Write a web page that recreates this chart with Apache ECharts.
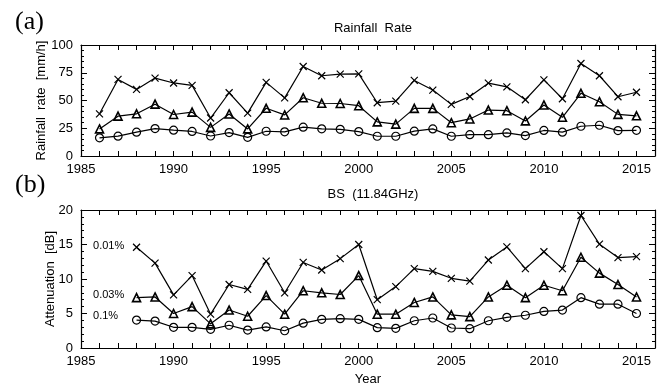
<!DOCTYPE html>
<html>
<head>
<meta charset="utf-8">
<script src="https://cdn.jsdelivr.net/npm/echarts@6/dist/echarts.min.js"></script>
<style>
  html, body { margin: 0; padding: 0; background: #fff; }
  #chart { width: 662px; height: 387px; }
</style>
</head>
<body>
<div id="chart"></div>
<script>
// (a) rainfall rate exceeded at given time percentages
const rainYears = [1986, 1987, 1988, 1989, 1990, 1991, 1992, 1993, 1994, 1995,
  1996, 1997, 1998, 1999, 2000, 2001, 2002, 2003, 2004, 2005,
  2006, 2007, 2008, 2009, 2010, 2011, 2012, 2013, 2014, 2015];
const rain001 = [38, 69, 60, 70.2, 65.8, 63.6, 34.2, 57, 38.6, 66.3,
  52.4, 80.6, 72.3, 73.8, 74, 48, 49.5, 68.1, 59.4, 46.5,
  53.6, 65.6, 62.3, 50.7, 68.6, 51.6, 83.3, 72.3, 53.4, 57.4];
const rain003 = [24.4, 35.9, 38, 46.7, 37.4, 39.5, 25.8, 37.9, 24.4, 43,
  37, 52.5, 47.5, 47.3, 45.3, 30.7, 28.7, 42.9, 42.9, 30,
  33.4, 41.4, 40.8, 31.6, 46, 34.9, 56.5, 48.9, 37.5, 36.2];
const rain01 = [16.4, 17.9, 21.5, 24.7, 23.3, 22.1, 18, 21.1, 16.8, 22.3,
  21.8, 26, 24.5, 24, 22, 17.8, 17.8, 22.4, 24.4, 17.8,
  19.2, 19.2, 20.8, 18.4, 23, 21.5, 26.8, 27.7, 22.9, 23.1];

// (b) BS 11.84GHz attenuation
const attYears = [1988, 1989, 1990, 1991, 1992, 1993, 1994, 1995,
  1996, 1997, 1998, 1999, 2000, 2001, 2002, 2003, 2004, 2005,
  2006, 2007, 2008, 2009, 2010, 2011, 2012, 2013, 2014, 2015];
const att001 = [14.6, 12.3, 7.7, 10.5, 4.9, 9.2, 8.5, 12.6,
  8, 12.4, 11.3, 12.95, 15, 7, 8.9, 11.5, 11.1, 10.1,
  9.7, 12.75, 14.65, 11.5, 13.95, 11.5, 19.2, 15.05, 13.1, 13.25];
const att003 = [7.3, 7.4, 5.0, 6.0, 3.5, 5.5, 4.6, 7.6,
  4.9, 8.3, 8.0, 7.75, 10.5, 4.9, 4.9, 6.6, 7.4, 4.8,
  4.55, 7.4, 9.1, 7.3, 9.1, 8.3, 13.15, 10.85, 9.2, 7.4];
const att01 = [4.05, 3.9, 3.0, 3.0, 2.7, 3.3, 2.6, 3.05,
  2.5, 3.6, 4.15, 4.25, 4.15, 2.95, 2.85, 3.95, 4.35, 2.9,
  2.8, 3.95, 4.45, 4.75, 5.3, 5.5, 7.3, 6.35, 6.35, 5.0];

const percentLabels = ["0.01%", "0.03%", "0.1%"];

const FONT = "Liberation Sans";
const CROSS = "path://M0,0L10,10M10,0L0,10";

const chart = echarts.init(document.getElementById("chart"), null, { renderer: "canvas" });

const xAxisBase = (gridIndex, position, showLabels, name) => ({
  type: "value",
  gridIndex,
  position,
  min: 1985,
  max: 2016,
  interval: 1,
  name: name || "",
  nameLocation: "middle",
  nameGap: 25,
  nameMoveOverlap: false,
  nameTextStyle: { color: "#000", fontFamily: FONT, fontSize: 13 },
  axisLine: { show: true, onZero: false, lineStyle: { color: "#000", width: 1.2 } },
  axisTick: { show: true, inside: true, length: 5, lineStyle: { color: "#000", width: 1 } },
  axisLabel: {
    show: showLabels,
    margin: 7,
    color: "#000",
    fontFamily: FONT,
    fontSize: 13,
    formatter: (v) => (v % 5 === 0 ? String(v) : "")
  },
  splitLine: { show: false }
});

const yAxisBase = (gridIndex, position, max, interval, showLabels, name, nameGap) => ({
  type: "value",
  gridIndex,
  position,
  min: 0,
  max,
  interval,
  name: name || "",
  nameLocation: "middle",
  nameGap: nameGap || 0,
  nameMoveOverlap: false,
  nameTextStyle: { color: "#000", fontFamily: FONT, fontSize: 13 },
  axisLine: { show: true, onZero: false, lineStyle: { color: "#000", width: 1.2 } },
  axisTick: { show: true, inside: true, length: 6, lineStyle: { color: "#000", width: 1 } },
  minorTick: { show: true, splitNumber: 5, length: 3, lineStyle: { color: "#000", width: 1 } },
  axisLabel: { show: showLabels, margin: 8, color: "#000", fontFamily: FONT, fontSize: 13 },
  splitLine: { show: false },
  minorSplitLine: { show: false }
});

// label sits left-aligned a fixed distance left of the first point
const lineSeries = (xi, yi, years, values, symbol, size, borderWidth, label, labelDy) => ({
  type: "line",
  xAxisIndex: xi,
  yAxisIndex: yi,
  data: years.map((y, i) => {
    const item = { value: [y, values[i]] };
    if (label && i === 0) {
      item.label = {
        show: true,
        position: [size / 2 - 41, size / 2 + (labelDy || 0)],
        align: "left",
        verticalAlign: "middle",
        formatter: label,
        color: "#000",
        fontFamily: FONT,
        fontSize: 11
      };
    }
    return item;
  }),
  symbol,
  symbolSize: size,
  showAllSymbol: true,
  lineStyle: { color: "#000", width: 1.2 },
  itemStyle: { color: "none", borderColor: "#000", borderWidth },
  emphasis: { disabled: true },
  animation: false,
  z: 3
});

chart.setOption({
  animation: false,
  title: [
    {
      text: "Rainfall  Rate",
      left: 368,
      top: 17,
      textAlign: "center",
      textStyle: { fontFamily: FONT, fontSize: 13, fontWeight: "normal", color: "#000" }
    },
    {
      text: "BS  (11.84GHz)",
      left: 368,
      top: 183,
      textAlign: "center",
      textStyle: { fontFamily: FONT, fontSize: 13, fontWeight: "normal", color: "#000" }
    },
    {
      text: "(a)",
      left: 10,
      top: 4,
      textStyle: { fontFamily: "Liberation Serif", fontSize: 26, fontWeight: "normal", color: "#000" }
    },
    {
      text: "(b)",
      left: 10,
      top: 167,
      textStyle: { fontFamily: "Liberation Serif", fontSize: 26, fontWeight: "normal", color: "#000" }
    }
  ],
  grid: [
    { left: 81, right: 7, top: 45, height: 111 },
    { left: 81, right: 7, top: 210, height: 148 }
  ],
  xAxis: [
    xAxisBase(0, "bottom", true),
    xAxisBase(0, "top", false),
    xAxisBase(1, "bottom", true, "Year"),
    xAxisBase(1, "top", false)
  ],
  yAxis: [
    yAxisBase(0, "left", 100, 25, true, "Rainfall  rate  [mm/h]", 33),
    yAxisBase(0, "right", 100, 25, false),
    yAxisBase(1, "left", 20, 5, true, "Attenuation  [dB]", 24),
    yAxisBase(1, "right", 20, 5, false)
  ],
  series: [
    lineSeries(0, 0, rainYears, rain001, CROSS, 7, 1.2),
    lineSeries(0, 0, rainYears, rain003, "triangle", 8, 1.6),
    lineSeries(0, 0, rainYears, rain01, "circle", 8, 1.2),
    lineSeries(2, 2, attYears, att001, CROSS, 7, 1.2, percentLabels[0], 1),
    lineSeries(2, 2, attYears, att003, "triangle", 8, 1.6, percentLabels[1]),
    lineSeries(2, 2, attYears, att01, "circle", 8, 1.2, percentLabels[2], -2)
  ]
});
</script>
</body>
</html>
